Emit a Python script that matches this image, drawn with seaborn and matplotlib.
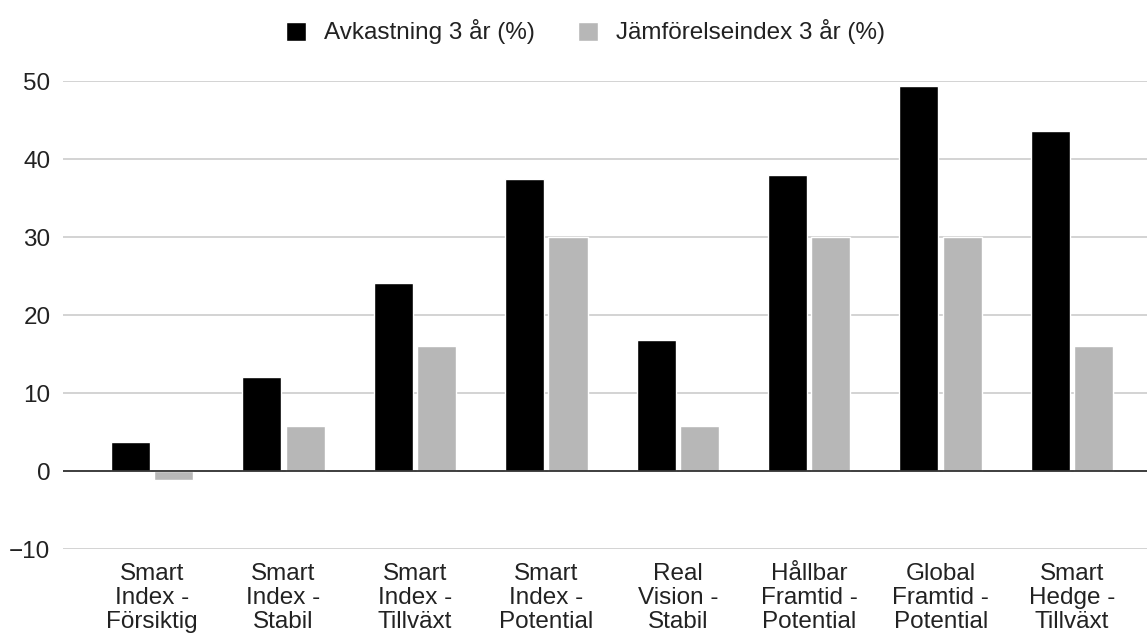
import matplotlib
matplotlib.use("Agg")
import matplotlib.pyplot as plt
import seaborn as sns
import pandas as pd

categories = [
    "Smart\nIndex -\nFörsiktig",
    "Smart\nIndex -\nStabil",
    "Smart\nIndex -\nTillväxt",
    "Smart\nIndex -\nPotential",
    "Real\nVision -\nStabil",
    "Hållbar\nFramtid -\nPotential",
    "Global\nFramtid -\nPotential",
    "Smart\nHedge -\nTillväxt",
]
series_names = ["Avkastning 3 år (%)", "Jämförelseindex 3 år (%)"]
avkastning = [3.7, 12.1, 24.1, 37.5, 16.8, 38.0, 49.3, 43.6]
jamforelse = [-1.2, 5.8, 16.0, 30.0, 5.8, 30.0, 30.0, 16.0]
yticks = [-10, 0, 10, 20, 30, 40, 50]
colors = ["#000000", "#b7b7b7"]

df = pd.DataFrame({
    "kategori": categories * 2,
    "serie": [series_names[0]] * len(categories) + [series_names[1]] * len(categories),
    "varde": avkastning + jamforelse,
})

sns.set_theme(style="white")
plt.rcParams["font.family"] = ["Liberation Sans", "DejaVu Sans"]

fig = plt.figure(figsize=(11.47, 6.33), dpi=100)
ax = fig.add_axes([63 / 1147, 1 - 549 / 633, (1147 - 63) / 1147, (549 - 81) / 633])

sns.barplot(data=df, x="kategori", y="varde", hue="serie", order=categories,
            hue_order=series_names, palette=colors, width=0.66, gap=0.1,
            saturation=1, ax=ax, legend=True, zorder=3)

ax.set_ylim(-10, 50)
ax.set_yticks(yticks)
ax.set_yticklabels(["\u221210" if t < 0 else str(t) for t in yticks])
ax.set_xlim(-0.677, 7.57)
ax.set_xlabel("")
ax.set_ylabel("")
for s in ax.spines.values():
    s.set_visible(False)
ax.grid(axis="y", color="#cccccc", linewidth=1.2, zorder=0)
ax.axhline(0, color="#333333", linewidth=1.3, zorder=4)
ax.tick_params(axis="y", length=0, pad=9, labelsize=17.5, colors="#222222")
ax.tick_params(axis="x", length=0, pad=10, labelsize=17.5, colors="#222222")
for lab in ax.get_xticklabels():
    lab.set_linespacing(1.12)

handles, labels = ax.get_legend_handles_labels()
ax.legend_.remove()
fig.legend(handles, labels, loc="center", bbox_to_anchor=(0.5 + 12 / 1147, 1 - 32 / 633), ncol=2,
           frameon=False, fontsize=17.5, handlelength=0.82, handleheight=0.82,
           handletextpad=0.74, columnspacing=1.77, labelcolor="#222222")

fig.savefig("out.png", dpi=100)
